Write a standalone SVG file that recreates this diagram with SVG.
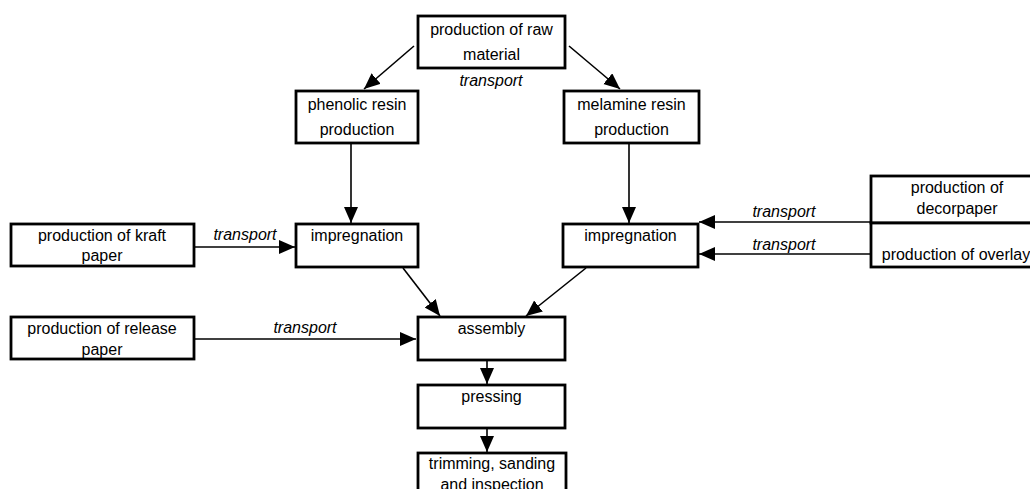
<svg xmlns="http://www.w3.org/2000/svg" width="1030" height="489" viewBox="0 0 1030 489">
<defs>
<style>
.box{fill:#fff;stroke:#000;stroke-width:2.8}
.t{font-family:"Liberation Sans",Arial,sans-serif;font-size:16px;fill:#000;text-anchor:middle}
.lbl{font-family:"Liberation Sans",Arial,sans-serif;font-size:16px;font-style:italic;fill:#000;text-anchor:middle}
.c{stroke:#000;stroke-width:1.6;fill:none;marker-end:url(#ah)}
</style>
<marker id="ah" markerUnits="userSpaceOnUse" markerWidth="17" markerHeight="15" refX="16" refY="7" orient="auto">
<path d="M0,0 L16,7 L0,14 z" fill="#000"/>
</marker>
</defs>
<rect width="1030" height="489" fill="#fff"/>
<g id="connectors">
<line class="c" x1="414" y1="46" x2="364" y2="89"/>
<line class="c" x1="569" y1="46" x2="620" y2="89"/>
<line class="c" x1="351" y1="143" x2="351" y2="223"/>
<line class="c" x1="629" y1="143" x2="629" y2="223"/>
<line class="c" x1="194" y1="247" x2="295" y2="247"/>
<line class="c" x1="871" y1="222" x2="699" y2="222"/>
<line class="c" x1="871" y1="254" x2="699" y2="254"/>
<line class="c" x1="403" y1="268" x2="440" y2="316"/>
<line class="c" x1="586" y1="268" x2="526" y2="316"/>
<line class="c" x1="194" y1="339" x2="416" y2="339"/>
<line class="c" x1="487" y1="361" x2="487" y2="384"/>
<line class="c" x1="487" y1="429" x2="487" y2="452"/>
<text class="lbl" x="491" y="86">transport</text>
<text class="lbl" x="245" y="240">transport</text>
<text class="lbl" x="305" y="333">transport</text>
<text class="lbl" x="784" y="217">transport</text>
<text class="lbl" x="784" y="250">transport</text>
</g>
<g id="raw"><rect class="box" x="418" y="16" width="147" height="52"/><text class="t" x="491.5" y="35">production of raw</text><text class="t" x="491.5" y="60">material</text></g>
<g id="phenolic"><rect class="box" x="296" y="91" width="122" height="52"/><text class="t" x="357" y="110">phenolic resin</text><text class="t" x="357" y="135">production</text></g>
<g id="melamine"><rect class="box" x="564" y="91" width="135" height="52"/><text class="t" x="631.5" y="110">melamine resin</text><text class="t" x="631.5" y="135">production</text></g>
<g id="imp-left"><rect class="box" x="296" y="224" width="122" height="43"/><text class="t" x="357" y="241">impregnation</text></g>
<g id="imp-right"><rect class="box" x="563" y="224" width="135" height="43"/><text class="t" x="630.5" y="241">impregnation</text></g>
<g id="kraft"><rect class="box" x="11" y="224" width="183" height="42"/><text class="t" x="102" y="241">production of kraft</text><text class="t" x="102" y="261">paper</text></g>
<g id="release"><rect class="box" x="11" y="317" width="183" height="42"/><text class="t" x="102" y="334">production of release</text><text class="t" x="102" y="355">paper</text></g>
<g id="decor"><rect class="box" x="871" y="176" width="175" height="47"/><text class="t" x="957" y="193">production of</text><text class="t" x="957" y="214">decorpaper</text></g>
<g id="overlay"><rect class="box" x="871" y="223" width="175" height="44"/><text class="t" x="956" y="260">production of overlay</text></g>
<g id="assembly"><rect class="box" x="418" y="317" width="147" height="43"/><text class="t" x="491.5" y="334">assembly</text></g>
<g id="pressing"><rect class="box" x="418" y="385" width="147" height="43"/><text class="t" x="491.5" y="402">pressing</text></g>
<g id="trimming"><rect class="box" x="418" y="453" width="148" height="50"/><text class="t" x="492" y="469">trimming, sanding</text><text class="t" x="492" y="490">and inspection</text></g>
</svg>
